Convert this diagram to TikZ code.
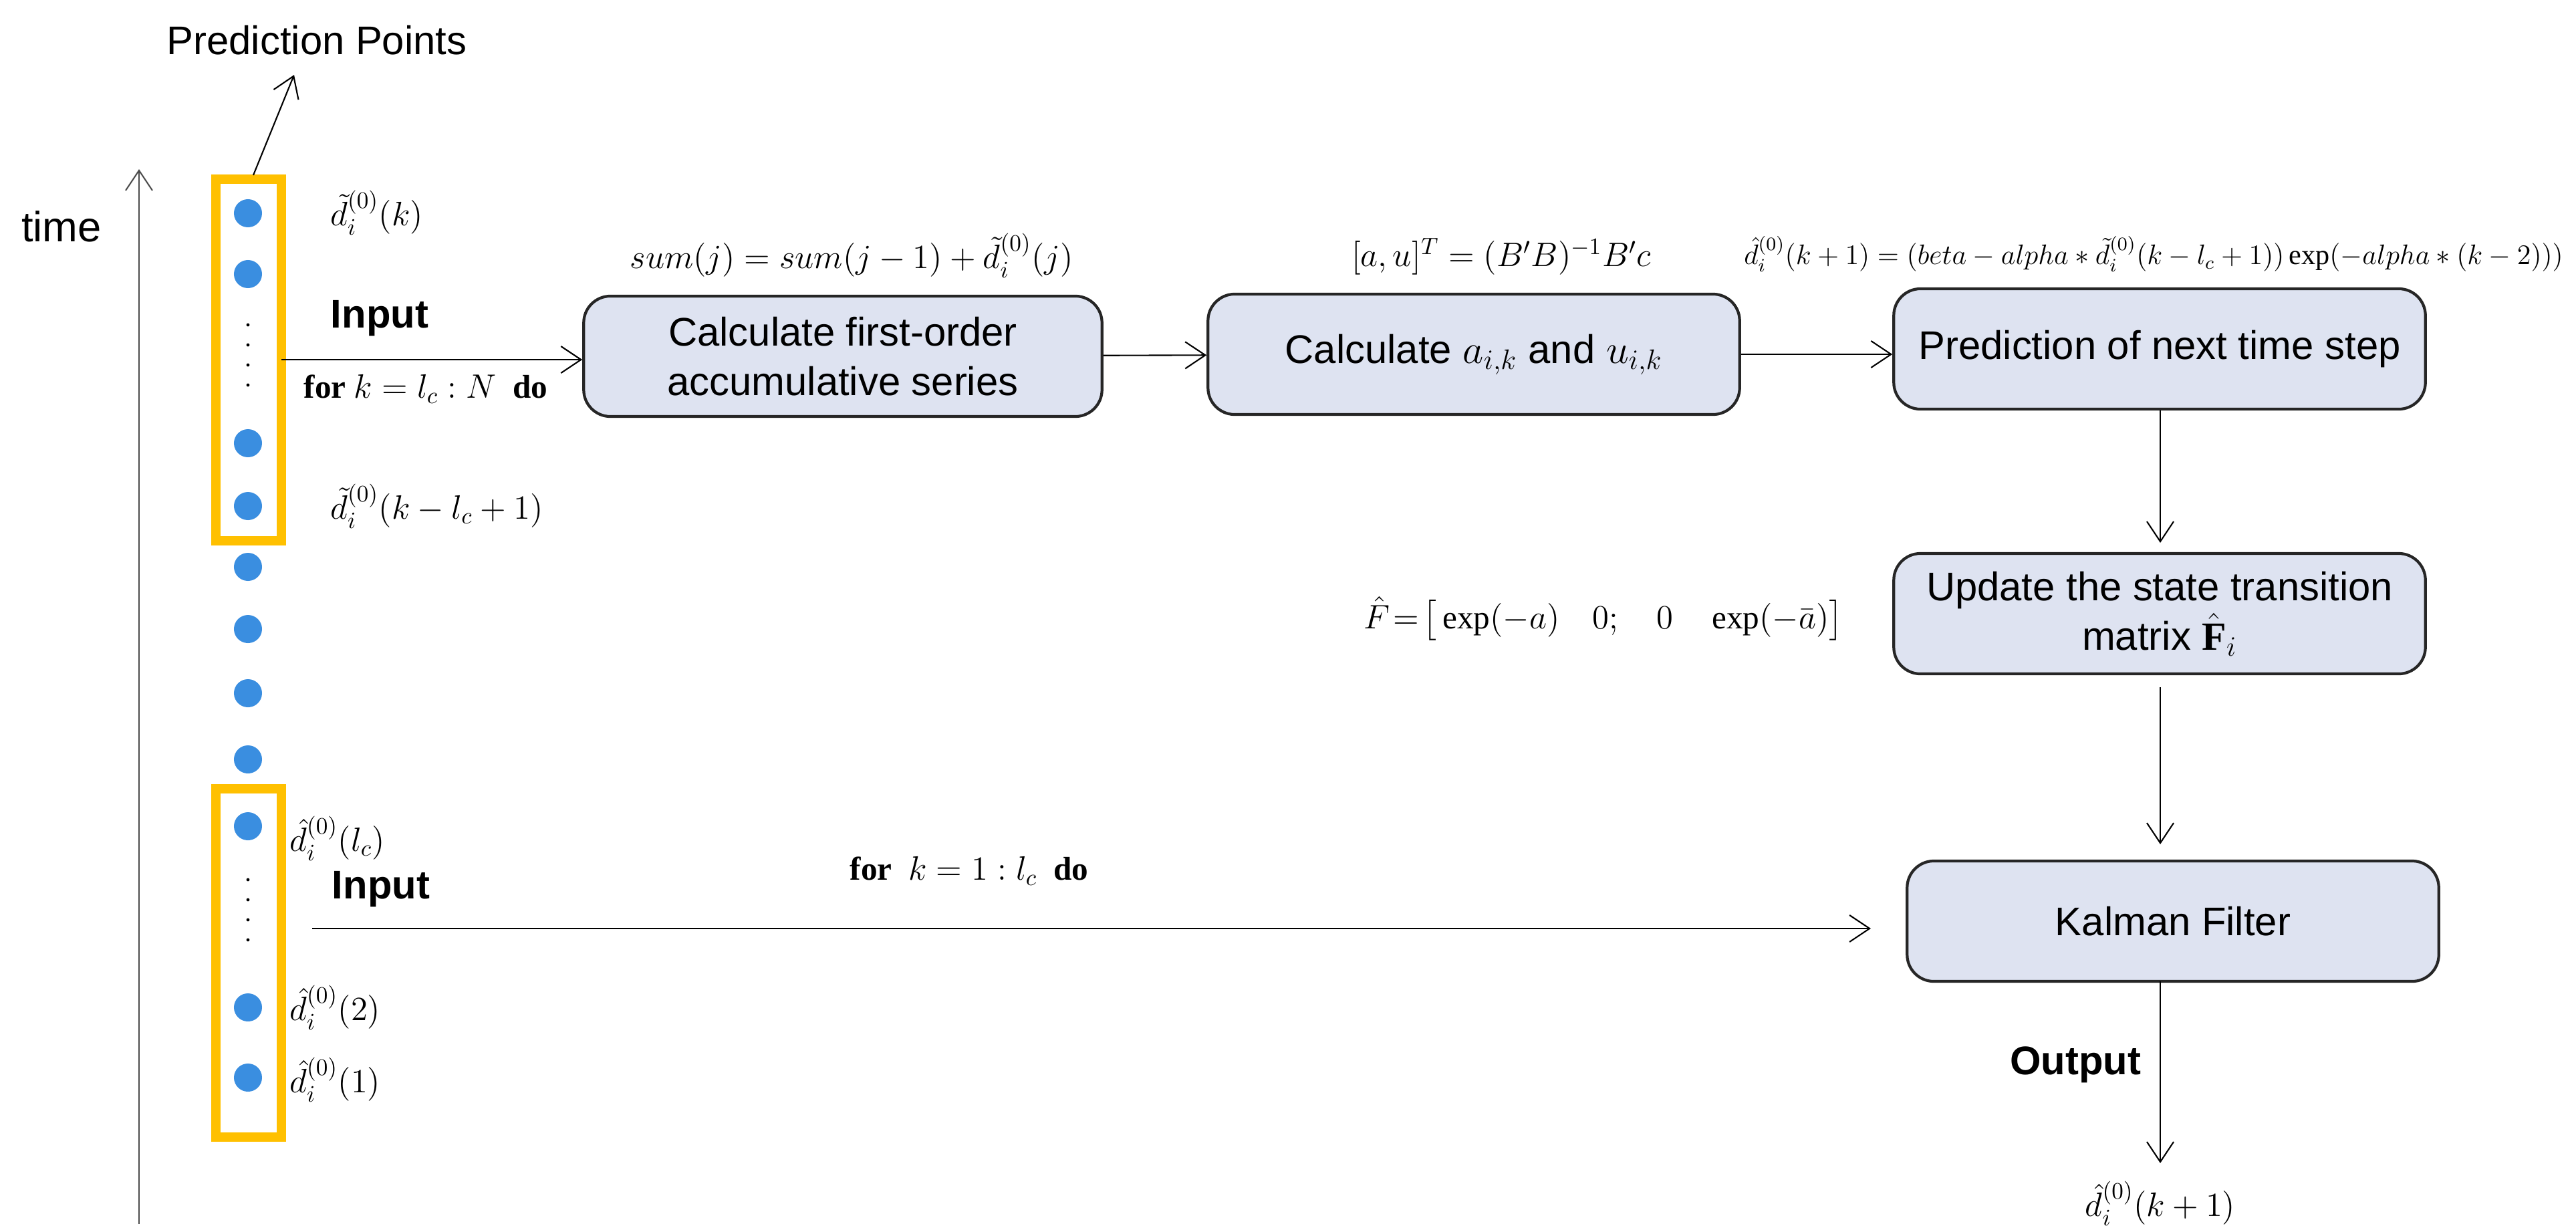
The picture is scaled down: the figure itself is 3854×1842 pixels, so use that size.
\documentclass[tikz,border=0pt]{standalone}
\usepackage{fontspec}
\setmainfont{Liberation Serif}
\setsansfont{Liberation Sans}
\usepackage{amsmath}
\usetikzlibrary{arrows.meta,positioning}
\definecolor{boxfill}{HTML}{DEE3F1}
\definecolor{ptblue}{HTML}{3A8EE0}
\definecolor{winyel}{HTML}{FFC000}
\begin{document}
\begin{tikzpicture}[
x=0.01cm, y=-0.01cm,
stage/.style={draw=black!85, line width=1.2pt, fill=boxfill, rounded corners=0.4cm, minimum width=7.95cm, minimum height=1.8cm, align=center, font=\sffamily\fontsize{17}{21}\selectfont},
pt/.style={circle, fill=ptblue, minimum size=0.42cm, inner sep=0pt},
win/.style={draw=winyel, line width=1.4mm},
eq/.style={font=\fontsize{14}{16}\selectfont},
lab/.style={font=\sffamily\bfseries\fontsize{17}{20}\selectfont},
arrow/.style={-{Straight Barb[length=3mm,width=4mm]}, line width=0.6pt},
]

\useasboundingbox (0,0) rectangle (3854,1842);

%% time axis
\coordinate (t0) at (208,1831);
\coordinate (t1) at (208,253);
\draw[arrow, black!70] (t0)--(t1);
\node[font=\sffamily\fontsize{18}{22}\selectfont] (time) at (92,339) {time};

%% points
\foreach \n/\y in {1/319,2/410,3/663,4/757,5/848,6/941,7/1037,8/1136,9/1236,10/1507,11/1612}{
\node[pt] (p\n) at (371,\y) {};
}
\foreach \y in {486,516,546,576,1316,1346,1376,1406}{
\fill (371,\y) circle (2.4);
}

%% windows
\draw[win] (323,268) rectangle (421,809);
\draw[win] (323,1180) rectangle (421,1701);
\coordinate (w1) at (379,262);
\node[font=\sffamily\fontsize{17}{20}\selectfont] (pp) at (474,60) {Prediction Points};
\coordinate (w2) at (440,112);
\draw[arrow] (w1)--(w2);

%% point labels
\node[eq, anchor=west] (l1) at (482,318) {$\tilde{d}_i^{(0)}(k)$};
\node[eq, anchor=west] (l2) at (482,757) {$\tilde{d}_i^{(0)}(k-l_c+1)$};
\node[eq, anchor=west] (l3) at (421,1254) {$\hat{d}_i^{(0)}(l_c)$};
\node[eq, anchor=west] (l4) at (421,1507) {$\hat{d}_i^{(0)}(2)$};
\node[eq, anchor=west] (l5) at (421,1615) {$\hat{d}_i^{(0)}(1)$};

%% stages
\node[stage, minimum width=7.75cm] (s1) at (1261,533) {Calculate first-order\\accumulative series};
\node[stage] (s2) at (2205,530) {Calculate $a_{i,k}$ and $u_{i,k}$};
\node[stage] (s3) at (3231,522) {Prediction of next time step};
\node[stage] (s4) at (3231,918) {Update the state transition\\ matrix $\hat{\mathbf{F}}_i$};
\node[stage] (s5) at (3251,1378) {Kalman Filter};

%% formulas
\node[eq] (e1) at (1274,382) {$sum(j)=sum(j-1)+\tilde{d}_i^{(0)}(j)$};
\node[eq] (e2) at (2246,384) {$[a,u]^T=(B'B)^{-1}B'c$};
\node[eq, font=\fontsize{12}{14}\selectfont] (e3) at (3222,380) {$\hat{d}_i^{(0)}(k+1)=(beta-alpha*\tilde{d}_i^{(0)}(k-l_c+1))\exp(-alpha*(k-2)))$};
\node[eq, anchor=east] (e4) at (2770,925) {$\hat{F}\!=\!\big[\exp(-a)\quad 0;\quad 0\quad \exp(-\bar{a})\big]$};

%% inputs
\coordinate (i1) at (421,538);
\draw[arrow] (i1)--(s1.west |- i1);
\node[lab] (in1) at (568,476) {Input};
\node[eq] (f1) at (637,582) {$\textbf{for}\ k=l_c:N\ \ \textbf{do}$};
\coordinate (i2) at (467,1389);
\coordinate (i3) at (2799,1389);
\draw[arrow] (i2)--(i3);
\node[lab] (in2) at (570,1330) {Input};
\node[eq] (f2) at (1450,1303) {$\textbf{for}\ \ k=1:l_c\ \ \textbf{do}$};

%% flow
\draw[arrow] (s1)--(s2);
\draw[arrow] (s2.east)--(s3.west |- s2.east);
\coordinate (a4) at (3232,812);
\draw[arrow] (s3.south -| a4)--(a4);
\coordinate (a5a) at (3232,1028);
\coordinate (a5b) at (3232,1263);
\draw[arrow] (a5a)--(a5b);
\coordinate (o1) at (3232,1468);
\coordinate (o2) at (3232,1740);
\draw[arrow] (o1)--(o2);
\node[lab] (out) at (3105,1593) {Output};
\node[eq] (res) at (3232,1800) {$\hat{d}_i^{(0)}(k+1)$};

\end{tikzpicture}
\end{document}
